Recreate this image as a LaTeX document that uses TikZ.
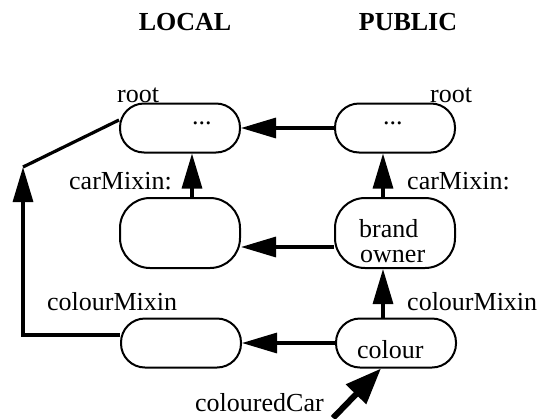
\documentclass[tikz,border=0pt]{standalone}
\usepackage{fontspec}
\setmainfont{Liberation Serif}
\usetikzlibrary{arrows.meta}
\begin{document}
\begin{tikzpicture}[x=1pt,y=-1pt,
  box/.style={draw,line width=2pt,rounded corners=24pt,minimum width=120pt,minimum height=49pt,inner sep=0pt},
  tallbox/.style={box,minimum height=70pt,rounded corners=30pt},
  lbl/.style={inner sep=0pt,anchor=base west,font=\fontsize{26}{26}\selectfont},
  ttl/.style={inner sep=0pt,anchor=base,font=\fontsize{26}{26}\selectfont\bfseries},
  conn/.style={line width=3.2pt},
  arr/.style={conn,-{Triangle[length=35pt,width=20pt]}},
  bigarr/.style={line width=6pt,-{Triangle[length=36pt,width=27pt]}}]
\useasboundingbox (0,0) rectangle (543,418);
% titles
\node[ttl] (tlocal) at (185,30) {LOCAL};
\node[ttl] (tpublic) at (408,30) {PUBLIC};
% boxes
\node[box] (tl) at (180,128) {};
\node[box] (tr) at (395,128) {};
\node[tallbox] (ml) at (180,233) {};
\node[tallbox] (mr) at (395,233) {};
\node[box] (bl) at (181,343) {};
\node[box] (br) at (396,343) {};
% texts
\node[lbl] (root1) at (117,102) {root};
\node[lbl] (root2) at (430,102) {root};
\node[lbl] (dots1) at (192,124) {...};
\node[lbl] (dots2) at (383,124) {...};
\node[lbl] (cm1) at (69,189) {carMixin:};
\node[lbl] (cm2) at (407,189) {carMixin:};
\node[lbl] (brand) at (359,237) {brand};
\node[lbl] (owner) at (360,262) {owner};
\node[lbl] (col1) at (47,310) {colourMixin};
\node[lbl] (col2) at (407,310) {colourMixin};
\node[lbl] (colour) at (357,358) {colour};
\node[lbl] (cc) at (195,411) {colouredCar};
% connectors
\coordinate (corner) at (23,167);
\coordinate (cctail) at (333,418);
\draw[arr] (tr.west) -- (tl.east);
\draw[arr] ([yshift=-14pt]mr.west) -- ([yshift=-14pt]ml.east);
\draw[arr] (br.west) -- (bl.east);
\draw[arr] ([xshift=12pt]ml.north) -- ([xshift=12pt]tl.south);
\draw[arr] ([xshift=-12pt]mr.north) -- ([xshift=-12pt]tr.south);
\draw[arr] ([xshift=-13pt]br.north) -- ([xshift=-12pt]mr.south);
\draw[arr] ([yshift=8pt]bl.west) -| (corner);
\draw[conn] (corner) -- ([yshift=8pt]tl.west);
\draw[bigarr] (cctail) -- ([xshift=-15pt]br.south);
\end{tikzpicture}
\end{document}
